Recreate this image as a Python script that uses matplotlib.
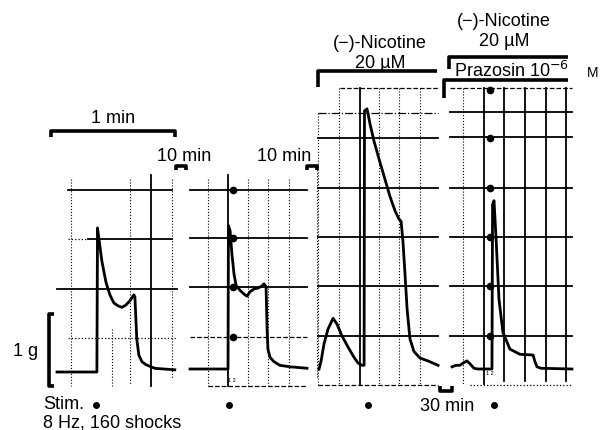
import numpy as np
import matplotlib.pyplot as plt

plt.rcParams['font.family'] = ['Liberation Sans', 'DejaVu Sans']

W, H = 605, 431
PX_S = 124 / 60.0   # px per second (from the 1 min bar)
PX_G = 73.5         # px per gram (from the 1 g bar)

# recorded tension traces: time (s) from panel start, tension (g) above baseline
t1 = [0, 19.3, 19.6, 20.3, 21.7, 23.7, 25.6, 27.5, 29.5, 31.4, 33.3, 35.3, 37.2, 37.7,
      38.6, 39.6, 41.1, 43.0, 47.3, 52.2, 57.0]
g1 = [0, 0, 1.96, 1.81, 1.51, 1.22, 1.05, 0.94, 0.90, 0.88, 0.91, 0.97, 1.05, 1.02,
      0.45, 0.23, 0.14, 0.10, 0.05, 0.04, 0.03]

t2 = [0, 18.4, 18.6, 19.4, 20.3, 21.3, 22.3, 24.2, 26.1, 27.6, 29.0, 31.0, 32.9, 34.8,
      35.8, 36.8, 37.3, 37.7, 38.7, 40.6, 43.5, 48.4, 56.6]
g2 = [0, 0, 1.95, 1.88, 1.56, 1.29, 1.14, 1.07, 1.02, 0.99, 1.05, 1.09, 1.10, 1.13,
      1.16, 1.12, 0.54, 0.27, 0.16, 0.10, 0.05, 0.03, 0.01]

t3 = [0.5, 1.5, 2.9, 4.8, 7.3, 9.2, 11.6, 14.5, 17.4, 19.4, 21.3, 22.3, 22.5, 23.7, 25.2,
      27.1, 29.5, 31.9, 34.8, 37.3, 39.2, 40.2, 41.1, 42.1, 43.1, 44.5, 46.4, 49.3, 53.2, 58.1]
g3 = [0, 0.11, 0.34, 0.54, 0.69, 0.61, 0.45, 0.30, 0.16, 0.08, 0.05, 0.05, 3.51, 3.54, 3.33,
      3.10, 2.86, 2.63, 2.35, 2.15, 2.04, 2.01, 1.74, 1.29, 0.82, 0.41, 0.24, 0.15, 0.11, 0.05]

t4 = [1.0, 2.9, 4.8, 6.3, 8.2, 9.7, 11.6, 13.5, 20.3, 20.6, 21.3, 22.3, 23.7, 25.6, 29.0,
      33.9, 40.2, 41.1, 42.1, 44.0, 59.0]
g4 = [0.03, 0.05, 0.05, 0.08, 0.11, 0.07, 0.01, 0, 0, 2.24, 2.29, 1.77, 0.95, 0.50, 0.27,
      0.20, 0.19, 0.10, 0.03, 0.01, 0]

# panel layout in pixels: origin x, baseline y, chart-paper lines, event marker dots
panels = [
    dict(x0=57, base=373, t=t1, g=g1,
         h=[(191, 68, 172, '-'), (240, 88, 172, '-'), (240, 68, 88, ':'), (290, 57, 177, '-'),
            (339, 68, 177, ':')],
         v=[(71, 180, 387, ':'), (112, 330, 387, ':'), (130, 180, 385, ':'),
            (151, 176, 387, '-'), (172, 180, 380, ':')],
         dots=None),
    dict(x0=190, base=370, t=t2, g=g2,
         h=[(191, 190, 307, '-'), (239, 190, 307, '-'), (288, 190, 307, '-'),
            (338, 190, 307, '--'), (387, 208, 307, '--')],
         v=[(208, 180, 387, ':'), (228, 176, 387, '-'), (248, 180, 387, ':'),
            (268, 180, 387, ':'), (289, 180, 387, ':'), (317, 165, 380, ':')],
         dots=(233, [191, 239, 288, 338])),
    dict(x0=318, base=370, t=t3, g=g3,
         h=[(89, 340, 438, '--'), (114, 318, 438, '-.'), (139, 318, 438, '-'),
            (189, 318, 438, '-'), (238, 318, 438, '-'), (287, 318, 438, '-'),
            (337, 318, 438, '-'), (386, 318, 438, '--')],
         v=[(318, 114, 386, ':'), (339, 89, 386, ':'), (360, 89, 386, '-'),
            (379, 89, 386, ':'), (399, 89, 386, ':'), (420, 89, 386, ':')],
         dots=None),
    dict(x0=450, base=370, t=t4, g=g4,
         h=[(89, 450, 572, '--'), (113, 450, 572, '-'), (138, 450, 572, '-'),
            (189, 450, 572, '-'), (238, 450, 572, '-'), (287, 450, 572, '-'),
            (337, 450, 572, '-'), (386, 470, 572, ':')],
         v=[(463, 89, 385, ':'), (484, 89, 385, '-'), (504, 89, 382, '-'),
            (525, 89, 382, '-'), (546, 89, 382, '-'), (566, 89, 382, '-')],
         dots=(490, [91, 139, 189, 238, 287, 337])),
]

fig = plt.figure(figsize=(W / 100, H / 100), dpi=100)
ax = fig.add_axes([0, 0, 1, 1])
ax.set_xlim(0, W)
ax.set_ylim(H, 0)
ax.axis('off')

for p in panels:
    for y, xa, xb, ls in p['h']:
        ax.plot([xa, xb], [y, y], color='black', lw=1.3 if ls == '-' else 0.9, ls=ls)
    for x, ya, yb, ls in p['v']:
        ax.plot([x, x], [ya, yb], color='black', lw=1.3 if ls == '-' else 0.8, ls=ls)
    px = p['x0'] + np.array(p['t']) * PX_S
    py = p['base'] - np.array(p['g']) * PX_G
    ax.plot(px, py, color='black', lw=2.0, solid_joinstyle='round')
    if p['dots']:
        dx, dys = p['dots']
        ax.plot([dx] * len(dys), dys, 'o', color='black', ms=4.5)

# tiny pen labels
ax.text(232, 381, '1 2', fontsize=4, ha='center', va='center')
ax.text(490, 374, '1 2', fontsize=4, ha='center', va='center')

FS = 13
kw = dict(color='black', lw=2.6, solid_capstyle='butt')
# 1 min bar
ax.plot([51, 51, 175, 175], [138, 132, 132, 138], **kw)
ax.text(113, 119, '1 min', fontsize=FS, ha='center', va='center')
# 10 min gaps
ax.text(184, 157, '10 min', fontsize=FS, ha='center', va='center')
ax.plot([176, 176, 186, 186], [171, 167, 167, 171], **kw)
ax.text(284, 157, '10 min', fontsize=FS, ha='center', va='center')
ax.plot([307, 307, 317, 317], [171, 167, 167, 171], **kw)
# 1 g bar
ax.plot([54, 49, 49, 54], [315, 315, 387, 387], **kw)
ax.text(38, 352, '1 g', fontsize=FS, ha='right', va='center')

# drug bars
ax.text(380, 44, '(\u2212)-Nicotine', fontsize=FS, ha='center', va='center')
ax.text(380, 63, '20 \u00b5M', fontsize=FS, ha='center', va='center')
ax.plot([318, 318, 437], [88, 72, 72], **kw)

ax.text(504, 21, '(\u2212)-Nicotine', fontsize=FS, ha='center', va='center')
ax.text(504, 42, '20 \u00b5M', fontsize=FS, ha='center', va='center')
ax.plot([449, 449, 568], [70, 58, 58], **kw)
ax.text(454, 71, 'Prazosin 10$^{-6}$', fontsize=FS, ha='left', va='center')
ax.text(593, 73, 'M', fontsize=10, ha='center', va='center')
ax.plot([444, 444, 568], [99, 81, 81], **kw)

# stimulation marks
ax.text(43, 405, 'Stim.', fontsize=FS, ha='left', va='center')
ax.plot([96, 229, 368, 494], [406] * 4, 'o', color='black', ms=4)
ax.text(43, 423, '8 Hz, 160 shocks', fontsize=FS, ha='left', va='center')
ax.text(447, 407, '30 min', fontsize=FS, ha='center', va='center')
ax.plot([440, 440, 452, 452], [387, 392, 392, 387], **kw)

fig.savefig('out.png', dpi=100)
